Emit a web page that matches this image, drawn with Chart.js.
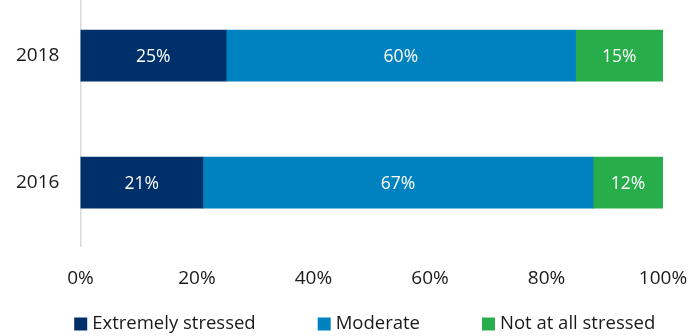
<!DOCTYPE html>
<html>
<head>
<meta charset="utf-8">
<script src="https://cdn.jsdelivr.net/npm/chart.js@4.4.1/dist/chart.umd.min.js"></script>
<style>
  html, body { margin: 0; padding: 0; background: #fff; overflow: hidden; }
  #wrap { width: 690px; height: 336px; overflow: hidden; }
  /* the plot runs a little past the top edge, so the canvas is taller and pulled up */
  #stressChart { display: block; margin-top: -8px; }
</style>
</head>
<body>
<div id="wrap"><canvas id="stressChart" width="690" height="344"></canvas></div>
<script>
const years = ["2018", "2016"];
const extremely = [25, 21];
const moderate = [60, 67];
const notAtAll = [15, 12];
const seriesNames = ["Extremely stressed", "Moderate", "Not at all stressed"];
const seriesColors = ["#003069", "#0082c0", "#27ae4a"];
const xTicks = [0, 20, 40, 60, 80, 100];

const FONT = "'Open Sans', 'Noto Sans', sans-serif";
const TEXT = "#1a1a1a";

// writes the value in the middle of every bar segment
const segmentLabels = {
  id: "segmentLabels",
  afterDatasetsDraw(chart) {
    const ctx = chart.ctx;
    ctx.save();
    ctx.fillStyle = "#ffffff";
    ctx.font = "17.5px " + FONT;
    ctx.textAlign = "center";
    ctx.textBaseline = "middle";
    chart.data.datasets.forEach((ds, i) => {
      chart.getDatasetMeta(i).data.forEach((bar, j) => {
        const mid = (bar.x + bar.base) / 2;
        ctx.fillText(ds.data[j] + "%", mid, bar.y + 1);
      });
    });
    ctx.restore();
  }
};

// one-row legend along the bottom edge, squares before each name
const bottomLegend = {
  id: "bottomLegend",
  afterDraw(chart) {
    const ctx = chart.ctx;
    const box = 13, boxGap = 5, itemGap = 62;
    ctx.save();
    ctx.font = "18.5px " + FONT;
    ctx.textBaseline = "middle";
    const widths = chart.data.datasets.map(ds => box + boxGap + ctx.measureText(ds.label).width);
    const total = widths.reduce((a, b) => a + b, 0) + itemGap * (widths.length - 1);
    const area = chart.chartArea;
    let x = (area.left + area.right) / 2 - 7 - total / 2;
    const y = chart.height - 12;
    chart.data.datasets.forEach((ds, i) => {
      ctx.fillStyle = ds.backgroundColor;
      ctx.fillRect(x, y - box / 2, box, box);
      ctx.fillStyle = TEXT;
      ctx.fillText(ds.label, x + box + boxGap, y);
      x += widths[i] + itemGap;
    });
    ctx.restore();
  }
};

new Chart(document.getElementById("stressChart"), {
  type: "bar",
  data: {
    labels: years,
    datasets: [
      { label: seriesNames[0], data: extremely, backgroundColor: seriesColors[0] },
      { label: seriesNames[1], data: moderate, backgroundColor: seriesColors[1] },
      { label: seriesNames[2], data: notAtAll, backgroundColor: seriesColors[2] }
    ]
  },
  options: {
    indexAxis: "y",
    responsive: false,
    animation: false,
    layout: { padding: { top: 0, left: 16, right: 0, bottom: 25 } },
    datasets: { bar: { barThickness: 51, borderWidth: 0 } },
    plugins: {
      legend: { display: false },
      tooltip: { enabled: false }
    },
    scales: {
      x: {
        stacked: true,
        min: 0,
        max: 100,
        afterBuildTicks: (axis) => { axis.ticks = xTicks.map(v => ({ value: v })); },
        grid: { display: false, drawTicks: false },
        border: { display: false },
        ticks: {
          padding: 21,
          color: TEXT,
          font: { family: FONT, size: 19 },
          callback: (v) => v + "%"
        },
        // leave just enough room on the right for the "100%" label
        afterFit: (scale) => { scale.paddingLeft = 0; scale.paddingRight = 27; }
      },
      y: {
        stacked: true,
        grid: { display: false, drawTicks: false },
        border: { display: true, color: "#d9d9d9", width: 1.5 },
        ticks: {
          padding: 21,
          color: TEXT,
          font: { family: FONT, size: 19 }
        },
        // year labels sit at band centres, so no extra room above/below is needed;
        // the tick padding is only wanted once between the labels and the axis line
        afterFit: (scale) => {
          scale.paddingTop = 0;
          scale.paddingBottom = 0;
          scale.width -= scale.options.ticks.padding;
        }
      }
    }
  },
  plugins: [segmentLabels, bottomLegend]
});
</script>
</body>
</html>
